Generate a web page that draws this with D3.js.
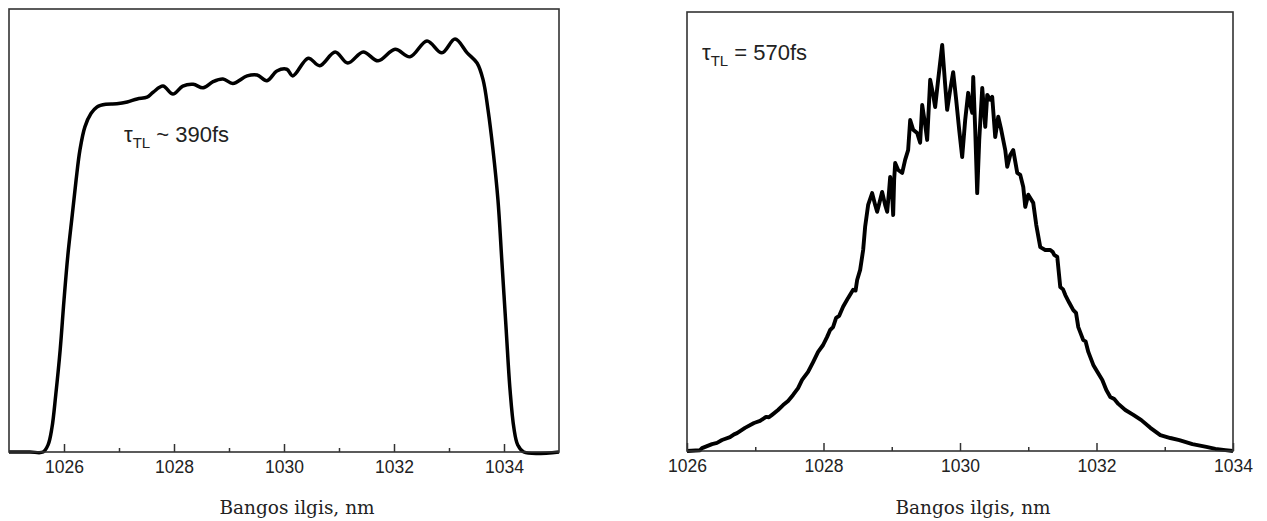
<!DOCTYPE html>
<html>
<head>
<meta charset="utf-8">
<script src="https://cdn.jsdelivr.net/npm/d3@7"></script>
<style>
  html, body { margin: 0; padding: 0; background: #fff; }
  svg { display: block; }
</style>
</head>
<body>
<svg id="chart" width="1267" height="521"></svg>
<script>
// ---- Data ----
// Left panel: spectrum (wavelength nm, relative intensity)
const leftWavelength = [1025.00,1025.38,1025.62,1025.71,1025.78,1025.85,1025.93,1026.00,1026.07,1026.15,1026.22,1026.29,1026.38,1026.49,1026.60,1026.76,1026.96,1027.15,1027.33,1027.51,1027.62,1027.80,1027.98,1028.16,1028.35,1028.53,1028.71,1028.89,1029.07,1029.33,1029.51,1029.69,1029.87,1030.05,1030.16,1030.44,1030.65,1030.93,1031.16,1031.44,1031.71,1032.02,1032.29,1032.60,1032.87,1033.11,1033.33,1033.51,1033.62,1033.71,1033.80,1033.89,1033.96,1034.04,1034.11,1034.18,1034.25,1034.36,1035.00];
const leftIntensity  = [0,0,0,0.016,0.054,0.129,0.230,0.343,0.444,0.535,0.614,0.682,0.734,0.764,0.779,0.785,0.786,0.790,0.797,0.801,0.812,0.826,0.808,0.826,0.830,0.822,0.836,0.842,0.832,0.849,0.851,0.838,0.860,0.864,0.849,0.889,0.872,0.903,0.878,0.903,0.883,0.909,0.892,0.928,0.901,0.932,0.901,0.878,0.840,0.772,0.682,0.569,0.433,0.275,0.140,0.054,0.016,0,0];

// Right panel: spectrum (wavelength nm, relative intensity)
const rightWavelength = [1026.000,1026.191,1026.220,1026.367,1026.440,1026.513,1026.630,1026.690,1026.733,1026.850,1026.982,1027.070,1027.158,1027.200,1027.246,1027.334,1027.408,1027.481,1027.554,1027.628,1027.686,1027.774,1027.848,1027.921,1027.994,1028.053,1028.097,1028.140,1028.185,1028.230,1028.287,1028.361,1028.434,1028.470,1028.493,1028.537,1028.581,1028.610,1028.654,1028.713,1028.757,1028.786,1028.830,1028.859,1028.903,1028.933,1028.962,1028.977,1029.006,1029.021,1029.035,1029.050,1029.094,1029.153,1029.196,1029.240,1029.270,1029.314,1029.372,1029.416,1029.446,1029.490,1029.519,1029.563,1029.607,1029.636,1029.680,1029.739,1029.783,1029.812,1029.856,1029.900,1029.944,1029.988,1030.032,1030.076,1030.120,1030.150,1030.179,1030.194,1030.223,1030.252,1030.282,1030.326,1030.370,1030.399,1030.443,1030.472,1030.516,1030.560,1030.604,1030.633,1030.663,1030.692,1030.736,1030.780,1030.839,1030.883,1030.927,1030.956,1031.000,1031.073,1031.117,1031.176,1031.249,1031.323,1031.360,1031.381,1031.425,1031.469,1031.510,1031.543,1031.601,1031.660,1031.700,1031.733,1031.806,1031.840,1031.880,1031.953,1032.012,1032.085,1032.144,1032.202,1032.260,1032.320,1032.422,1032.540,1032.657,1032.789,1032.935,1033.082,1033.214,1033.405,1033.610,1033.742,1033.889,1034.000];
const rightIntensity  = [0,0.002,0.007,0.017,0.020,0.027,0.034,0.041,0.044,0.057,0.069,0.074,0.084,0.083,0.089,0.101,0.113,0.123,0.138,0.155,0.175,0.195,0.219,0.244,0.261,0.281,0.298,0.305,0.328,0.333,0.355,0.377,0.397,0.395,0.421,0.446,0.495,0.552,0.606,0.635,0.606,0.589,0.618,0.638,0.606,0.589,0.643,0.675,0.631,0.581,0.667,0.709,0.692,0.685,0.717,0.741,0.815,0.791,0.783,0.759,0.852,0.803,0.766,0.914,0.877,0.847,0.914,1.000,0.901,0.840,0.889,0.933,0.865,0.791,0.724,0.815,0.882,0.852,0.833,0.921,0.791,0.635,0.766,0.894,0.798,0.877,0.865,0.872,0.773,0.823,0.791,0.766,0.741,0.700,0.729,0.741,0.685,0.680,0.650,0.601,0.631,0.611,0.557,0.502,0.495,0.495,0.490,0.483,0.478,0.404,0.398,0.384,0.365,0.347,0.340,0.305,0.273,0.270,0.244,0.212,0.195,0.175,0.150,0.133,0.128,0.116,0.101,0.089,0.076,0.057,0.039,0.032,0.027,0.017,0.010,0.005,0.002,0];

const leftMajorTicks = [1026, 1028, 1030, 1032, 1034];
const leftMinorTicks = [1027, 1029, 1031, 1033];
const rightMajorTicks = [1026, 1028, 1030, 1032, 1034];
const rightMinorTicks = [1027, 1029, 1031, 1033];
const axisTitle = "Bangos ilgis, nm";
const leftNote = { main: "τ", sub: "TL", rest: " ~ 390fs" };
const rightNote = { main: "τ", sub: "TL", rest: " = 570fs" };

// ---- Drawing ----
const svg = d3.select("#chart");

function panel(opts) {
  const { x0, x1, y0, y1, xDomain, yDomain, wl, inten, major, minor, note, noteX, noteY, lineW } = opts;
  const x = d3.scaleLinear().domain(xDomain).range([x0, x1]);
  const y = d3.scaleLinear().domain(yDomain).range([y1, y0]);
  const g = svg.append("g");

  // curve
  const data = wl.map((w, i) => [w, inten[i]]);
  const line = d3.line().x(d => x(d[0])).y(d => y(d[1]))
    .curve(opts.smooth ? d3.curveCatmullRom.alpha(0.5) : d3.curveLinear);
  g.append("path").datum(data).attr("d", line)
    .attr("fill", "none").attr("stroke", "#000")
    .attr("stroke-width", lineW).attr("stroke-linejoin", "round");

  // frame
  g.append("rect").attr("x", x0).attr("y", y0)
    .attr("width", x1 - x0).attr("height", y1 - y0)
    .attr("fill", "none").attr("stroke", "#333").attr("stroke-width", 1.6);

  // axes
  const ax = g.append("g").attr("transform", `translate(0,${y1})`)
    .call(d3.axisBottom(x).tickValues(major).tickFormat(d3.format("d"))
      .tickSizeInner(-8).tickSizeOuter(0).tickPadding(9));
  ax.select(".domain").remove();
  ax.selectAll(".tick line").attr("stroke", "#333").attr("stroke-width", 1.5);
  ax.selectAll(".tick text").attr("font-family", "Liberation Sans, Arial, sans-serif")
    .attr("font-size", 17.5).attr("fill", "#222");

  const mx = g.append("g").attr("transform", `translate(0,${y1})`)
    .call(d3.axisBottom(x).tickValues(minor).tickFormat("")
      .tickSizeInner(-4).tickSizeOuter(0));
  mx.select(".domain").remove();
  mx.selectAll(".tick line").attr("stroke", "#333").attr("stroke-width", 1.5);

  // axis title
  g.append("text").attr("x", (x0 + x1) / 2 + 13).attr("y", 514)
    .attr("text-anchor", "middle")
    .attr("font-family", "DejaVu Serif, serif")
    .attr("font-size", 18.5).attr("fill", "#222").text(axisTitle);

  // annotation
  const t = g.append("text").attr("x", noteX).attr("y", noteY)
    .attr("font-family", "Liberation Sans, Arial, sans-serif")
    .attr("font-size", 22).attr("fill", "#222");
  t.append("tspan").text(note.main);
  t.append("tspan").attr("font-size", 15).attr("dy", 6).text(note.sub);
  t.append("tspan").attr("dy", -6).text(note.rest);
}

panel({
  x0: 9, x1: 559, y0: 9, y1: 452,
  xDomain: [1025, 1035], yDomain: [0, 1],
  wl: leftWavelength, inten: leftIntensity,
  major: leftMajorTicks, minor: leftMinorTicks,
  note: leftNote, noteX: 124, noteY: 142, lineW: 3.5, smooth: true
});

panel({
  x0: 687, x1: 1233, y0: 12, y1: 451,
  xDomain: [1026, 1034], yDomain: [0, 1.081],
  wl: rightWavelength, inten: rightIntensity,
  major: rightMajorTicks, minor: rightMinorTicks,
  note: rightNote, noteX: 702, noteY: 60, lineW: 3.9, smooth: false
});
</script>
</body>
</html>
